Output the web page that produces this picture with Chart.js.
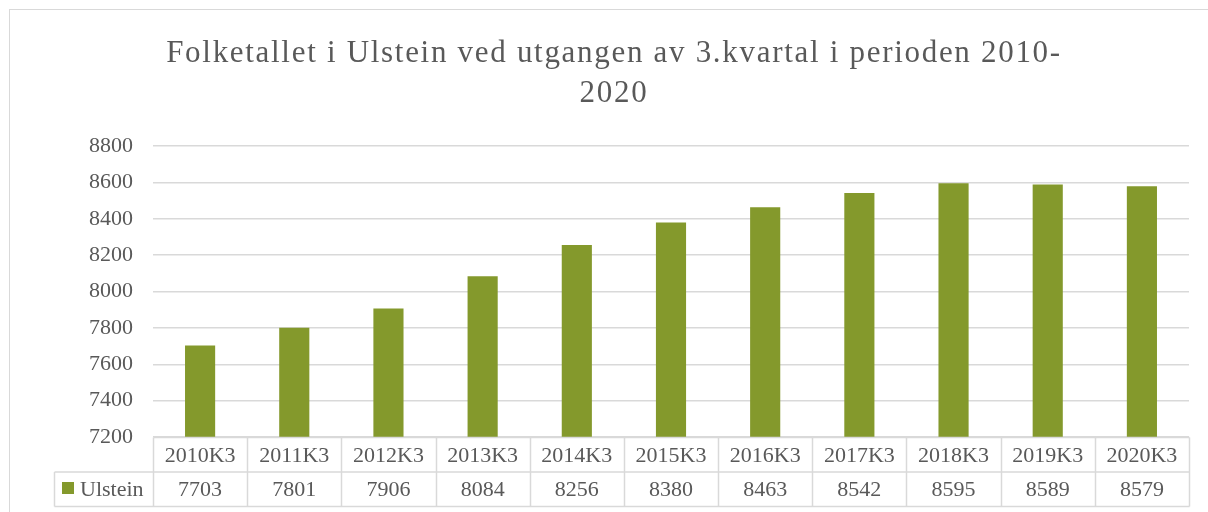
<!DOCTYPE html>
<html>
<head>
<meta charset="utf-8">
<script src="https://cdn.jsdelivr.net/npm/chart.js@4.4.1/dist/chart.umd.min.js"></script>
<style>
  html, body { margin: 0; padding: 0; background: #ffffff; }
  #wrap { width: 1208px; height: 512px; }
</style>
</head>
<body>
<div id="wrap"><canvas id="c" width="1208" height="512"></canvas></div>
<script>
const titleLines = ["Folketallet i Ulstein ved utgangen av 3.kvartal i perioden 2010-", "2020"];
const categories = ["2010K3", "2011K3", "2012K3", "2013K3", "2014K3", "2015K3", "2016K3", "2017K3", "2018K3", "2019K3", "2020K3"];
const seriesName = "Ulstein";
const values = [7703, 7801, 7906, 8084, 8256, 8380, 8463, 8542, 8595, 8589, 8579];
const yMin = 7200, yMax = 8800, yStep = 200;

const GREEN = "#84992c";
const TEXT = "#595959";
const LINE = "#d9d9d9";
const FONT = "'Liberation Serif', 'DejaVu Serif', serif";

const frame = {
  id: "frame",
  beforeDraw(chart) {
    const ctx = chart.ctx;
    ctx.save();
    ctx.fillStyle = "#ffffff";
    ctx.fillRect(0, 0, chart.width, chart.height);
    ctx.strokeStyle = LINE;
    ctx.lineWidth = 1;
    ctx.strokeRect(9.5, 9.5, chart.width + 20, chart.height + 20);
    ctx.restore();
  }
};

const chartTitle = {
  id: "chartTitle",
  afterDraw(chart) {
    const ctx = chart.ctx;
    ctx.save();
    ctx.fillStyle = TEXT;
    ctx.font = "31px " + FONT;
    ctx.textAlign = "center";
    ctx.textBaseline = "alphabetic";
    if ("letterSpacing" in ctx) ctx.letterSpacing = "1.7px";
    const cx = 614;
    ctx.fillText(titleLines[0], cx, 62);
    ctx.fillText(titleLines[1], cx, 102);
    ctx.restore();
  }
};

const dataTable = {
  id: "dataTable",
  afterDraw(chart) {
    const ctx = chart.ctx;
    const xs = chart.scales.x;
    const area = chart.chartArea;
    const n = categories.length;
    const colW = (area.right - area.left) / n;
    const r0 = Math.round(area.bottom) + 0.5;
    const rowH = 34.5;
    const r1 = r0 + rowH, r2 = r1 + rowH;
    const legLeft = 54.5;
    const L = Math.round(area.left) + 0.5, R = Math.round(area.right) + 0.5;
    ctx.save();
    ctx.strokeStyle = LINE;
    ctx.lineWidth = 1.5;
    ctx.beginPath();
    ctx.moveTo(L, r0); ctx.lineTo(R, r0);
    ctx.moveTo(legLeft, r1); ctx.lineTo(R, r1);
    ctx.moveTo(legLeft, r2); ctx.lineTo(R, r2);
    ctx.moveTo(legLeft, r1); ctx.lineTo(legLeft, r2);
    for (let i = 0; i <= n; i++) {
      const x = Math.round(area.left + i * colW) + 0.5;
      ctx.moveTo(x, r0); ctx.lineTo(x, r2);
    }
    ctx.stroke();

    ctx.fillStyle = TEXT;
    ctx.font = "22px " + FONT;
    ctx.textAlign = "center";
    ctx.textBaseline = "middle";
    categories.forEach((c, i) => {
      const cx = xs.getPixelForValue(i);
      ctx.fillText(c, cx, (r0 + r1) / 2 + 1);
      ctx.fillText(String(values[i]), cx, (r1 + r2) / 2 + 1);
    });
    ctx.fillStyle = GREEN;
    ctx.fillRect(62, 482, 12, 12);
    ctx.fillStyle = TEXT;
    ctx.textAlign = "left";
    ctx.fillText(seriesName, 80, (r1 + r2) / 2 + 1);
    ctx.restore();
  }
};

new Chart(document.getElementById("c"), {
  type: "bar",
  data: {
    labels: categories,
    datasets: [{
      label: seriesName,
      data: values,
      backgroundColor: GREEN,
      borderWidth: 0,
      categoryPercentage: 1,
      barPercentage: 0.32
    }]
  },
  options: {
    responsive: false,
    animation: false,
    devicePixelRatio: 1,
    layout: { padding: { left: 0, right: 19, top: 146, bottom: 75 } },
    plugins: {
      legend: { display: false },
      tooltip: { enabled: false },
      title: { display: false }
    },
    scales: {
      x: {
        display: false,
        offset: true
      },
      y: {
        min: yMin,
        max: yMax,
        ticks: {
          stepSize: yStep,
          color: TEXT,
          font: { family: FONT, size: 22 },
          padding: 20,
          callback: (v) => String(v)
        },
        grid: { color: LINE, lineWidth: 1.5, drawTicks: false },
        border: { display: false },
        afterFit(scale) { scale.width = 153; }
      }
    }
  },
  plugins: [frame, chartTitle, dataTable]
});
</script>
</body>
</html>
